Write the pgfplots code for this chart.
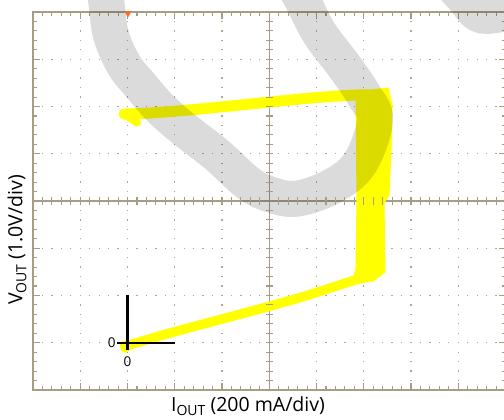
\documentclass[border=0pt]{standalone}
\usepackage{fontspec}
\setmainfont{Open Sans}
\usepackage{pgfplots}
\pgfplotsset{compat=1.18}
\definecolor{grat}{RGB}{165,158,132}
\definecolor{gdot}{RGB}{175,168,145}
\definecolor{trace}{RGB}{255,255,0}
\definecolor{mk}{RGB}{255,105,40}
\begin{document}
\begin{tikzpicture}
\begin{axis}[
  at={(33pt,30pt)}, anchor=south west,
  scale only axis, width=472.5pt, height=378pt,
  xmin=0,xmax=10,ymin=0,ymax=8,
  xtick={0,...,10}, ytick={0,...,8},
  minor x tick num=4, minor y tick num=4,
  xticklabels={,,}, yticklabels={,,},
  tick align=inside,
  major tick length=7pt, minor tick length=4pt,
  tick style={grat, line width=1.1pt, solid},
  axis line style={grat, line width=1.4pt},
  grid=major,
  major grid style={gdot, line width=1.3pt, dash pattern=on 1.3pt off 8.15pt, dash phase=0.65pt},
  clip=false,
]
% graticule centre lines and ticks
\addplot[grat, line width=1.4pt, forget plot] coordinates {(0,4)(10,4)};
\addplot[grat, line width=1.4pt, forget plot] coordinates {(5,0)(5,8)};
\addplot[only marks, mark=|, mark size=3.6pt, mark options={draw=grat, line width=1.1pt, solid}, forget plot] coordinates {
(0.2,4)(0.4,4)(0.6,4)(0.8,4)(1,4)(1.2,4)(1.4,4)(1.6,4)(1.8,4)(2,4)(2.2,4)(2.4,4)(2.6,4)(2.8,4)(3,4)(3.2,4)(3.4,4)(3.6,4)(3.8,4)(4,4)(4.2,4)(4.4,4)(4.6,4)(4.8,4)
(5.2,4)(5.4,4)(5.6,4)(5.8,4)(6,4)(6.2,4)(6.4,4)(6.6,4)(6.8,4)(7,4)(7.2,4)(7.4,4)(7.6,4)(7.8,4)(8,4)(8.2,4)(8.4,4)(8.6,4)(8.8,4)(9,4)(9.2,4)(9.4,4)(9.6,4)(9.8,4)};
\addplot[only marks, mark=-, mark size=3.6pt, mark options={draw=grat, line width=1.1pt, solid}, forget plot] coordinates {
(5,0.2)(5,0.4)(5,0.6)(5,0.8)(5,1)(5,1.2)(5,1.4)(5,1.6)(5,1.8)(5,2)(5,2.2)(5,2.4)(5,2.6)(5,2.8)(5,3)(5,3.2)(5,3.4)(5,3.6)(5,3.8)
(5,4.2)(5,4.4)(5,4.6)(5,4.8)(5,5)(5,5.2)(5,5.4)(5,5.6)(5,5.8)(5,6)(5,6.2)(5,6.4)(5,6.6)(5,6.8)(5,7)(5,7.2)(5,7.4)(5,7.6)(5,7.8)};
% yellow trace
\addplot[trace, fill=trace, line width=1pt] coordinates {(6.836,6.307)(7.513,6.392)(7.598,6.032)(7.577,5.079)(7.534,4.127)(7.429,3.958)(7.450,2.497)(7.196,2.307)(6.751,2.243)(6.836,2.582)(6.857,4.021)} -- cycle;
\addplot[trace, line width=9.5pt, line cap=round, smooth] coordinates {(1.968,0.931)(2.899,1.206)(4.635,1.672)(5.693,1.968)(6.751,2.307)(7.0,2.38)};
\addplot[trace, line width=8pt, line cap=round] coordinates {(1.92,0.95)(1.95,0.87)};
\addplot[trace, line width=11pt, line cap=round, smooth] coordinates {(1.926,5.841)(2.476,5.862)(3.534,5.947)(5.016,6.095)(6.011,6.190)(6.815,6.243)(7.40,6.24)};
\addplot[trace, line width=8pt, line cap=round] coordinates {(2.0,5.8)(2.2,5.66)};
% origin marker
\addplot[black, line width=2.3pt] coordinates {(2,0.85)(2,2)};
\addplot[black, line width=2.3pt] coordinates {(1.78,1)(3,1)};
\node[font=\fontsize{13.5}{13.5}\selectfont, anchor=east, inner sep=0pt] at (axis cs:1.75,1) {0};
\node[font=\fontsize{13.5}{13.5}\selectfont] at (axis cs:2,0.61) {0};
% trigger marker
\addplot[only marks, mark=triangle*, mark size=3.5pt, mark options={rotate=180, fill=mk, draw=mk}] coordinates {(2.01,7.97)};
% watermark
\addplot[black, draw opacity=0.14, line width=36pt, smooth, tension=0.6] coordinates {(1.45,8.78)(1.545,8.254)(1.651,7.513)(1.926,6.878)(2.265,6.455)(2.688,5.968)(3.217,5.503)(3.894,4.974)(4.55,4.38)(5.016,4.14)(5.587,4.05)(6.349,4.32)(6.921,4.804)(7.238,5.714)(7.0,6.243)(6.60,6.836)(6.06,7.556)(5.70,8.254)(5.40,8.78)};
\addplot[black, draw opacity=0.14, line width=36pt, smooth, tension=0.6] coordinates {(8.720,8.720)(9.080,8.339)(9.420,7.958)(9.800,7.937)(10.200,8.063)};
\end{axis}
\node[font=\fontsize{19.5}{19.5}\selectfont] at (248pt,14pt) {I\raisebox{-0.4ex}{\fontsize{14}{14}\selectfont OUT} (200 mA/div)};
\node[font=\fontsize{19.5}{19.5}\selectfont, rotate=90] at (17pt,180pt) {V\raisebox{-0.4ex}{\fontsize{14}{14}\selectfont OUT} (1.0V/div)};
\pgfresetboundingbox
\path[use as bounding box] (0pt,0pt) rectangle (504pt,420pt);
\end{tikzpicture}
\end{document}
